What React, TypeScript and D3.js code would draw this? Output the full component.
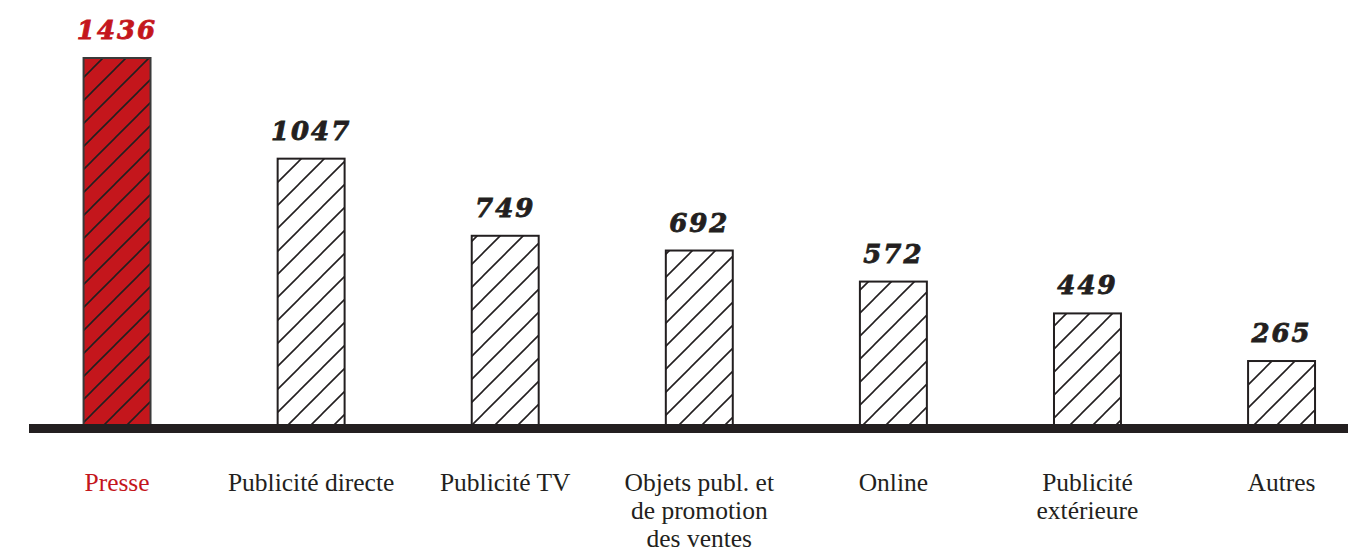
import React from "react";
import * as d3 from "d3";

const categories: string[][] = [
  ["Presse"],
  ["Publicité directe"],
  ["Publicité TV"],
  ["Objets publ. et", "de promotion", "des ventes"],
  ["Online"],
  ["Publicité", "extérieure"],
  ["Autres"],
];
const values: number[] = [1436, 1047, 749, 692, 572, 449, 265];
const highlightIndex = 0;

const WIDTH = 1348;
const HEIGHT = 553;
const INK = "#231f20";
const RED = "#c4161c";

export default function App() {
  const keys = categories.map((c) => c.join(" "));
  const x = d3
    .scaleBand<string>()
    .domain(keys)
    .range([20, 1378.6])
    .paddingInner(0.655)
    .paddingOuter(0.3275);
  const y = d3.scaleLinear().domain([0, 1436]).range([429.6, 58]);
  const bw = x.bandwidth();

  return (
    <svg
      width={WIDTH}
      height={HEIGHT}
      style={{ position: "absolute", left: 0, top: 0, background: "#fff" }}
    >
      <defs>
        {[
          { id: "hatch-red", fill: RED },
          { id: "hatch-white", fill: "#ffffff" },
        ].map((p) => (
          <pattern
            key={p.id}
            id={p.id}
            patternUnits="userSpaceOnUse"
            width={23}
            height={23}
          >
            <rect width={23} height={23} fill={p.fill} />
            <path
              d="M0,23 L23,0 M-4,4 L4,-4 M19,27 L27,19"
              stroke={INK}
              strokeWidth={1.6}
            />
          </pattern>
        ))}
      </defs>

      {values.map((v, i) => {
        const x0 = x(keys[i])!;
        const top = y(v);
        const red = i === highlightIndex;
        return (
          <g key={keys[i]}>
            <rect
              x={x0}
              y={top}
              width={bw}
              height={y(0) - top}
              fill={`url(#${red ? "hatch-red" : "hatch-white"})`}
              stroke={red ? "#3a3a3a" : INK}
              strokeWidth={2}
            />
            <text
              x={x0 + bw / 2}
              y={top - 19}
              textAnchor="middle"
              fontFamily="'DejaVu Serif', serif"
              fontWeight="bold"
              fontStyle="italic"
              fontSize={26}
              letterSpacing={2}
              fill={red ? RED : INK}
              stroke={red ? RED : INK}
              strokeWidth={0.8}
            >
              {v}
            </text>
            <text
              x={x0 + bw / 2}
              y={491}
              textAnchor="middle"
              fontFamily="'Liberation Serif', serif"
              fontSize={25.5}
              fill={red ? RED : INK}
            >
              {categories[i].map((line, j) => (
                <tspan key={j} x={x0 + bw / 2} dy={j === 0 ? 0 : 28}>
                  {line}
                </tspan>
              ))}
            </text>
          </g>
        );
      })}

      <rect x={29} y={424} width={WIDTH - 29} height={9} fill={INK} />
    </svg>
  );
}
